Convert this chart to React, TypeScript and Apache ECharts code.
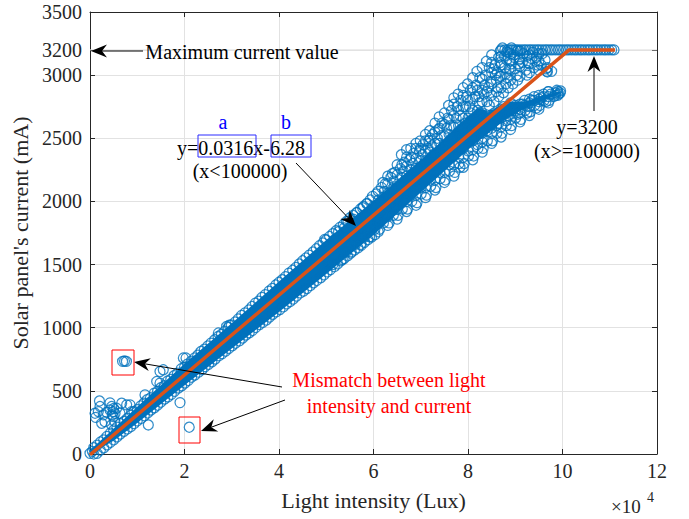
import React, { useEffect, useRef } from "react";
import * as echarts from "echarts";

const FONT = "Liberation Serif, Times New Roman, serif";
const BLUE = "#0072BD";
const ORANGE = "#D95319";
const AXIS = "#262626";
const GRID = "#e2e2e2";

const yTickLabels = [0, 500, 1000, 1500, 2000, 2500, 3000, 3200, 3500];

// fitted piecewise model: y = 0.0316x - 6.28 (x<100000), y = 3200 (x>=100000)
const fitX = [0, 101400, 111100];
const fitY = [-6.28, 3200, 3200];
const maxCurrent = [3200, 3200];
const maxCurrentX = [0, 120000];

// dense core of the measured cloud (where circles overlap completely)
const coreX = [0, 5000, 10000, 20000, 30000, 40000, 50000, 60000, 70000, 80000, 88000, 92000, 96000, 99500];
const coreLow = [0, 105, 245, 545, 835, 1125, 1425, 1735, 2070, 2410, 2650, 2735, 2800, 2855];
const coreHigh = [30, 200, 375, 715, 1035, 1365, 1695, 2005, 2310, 2610, 2790, 2790, 2840, 2872];
// dense part of the upper (saturating) arm
const armX = [60000, 66000, 70000, 74000, 78000, 82000, 84000];
const armLow = [1900, 2080, 2206, 2332, 2459, 2585, 2650];
const armHigh = [2000, 2200, 2330, 2460, 2610, 2740, 2720];

// measured samples (Lux, mA)
const upperEdge = [
  [800, 50], [2200, 95], [3600, 140], [5000, 190], [6400, 240], [7900, 282], [9300, 335], [10700, 380],
  [12100, 430], [13600, 482], [15000, 525], [16400, 578], [17800, 620], [19300, 675], [20600, 712],
  [22100, 760], [23500, 812], [24900, 855], [26400, 905], [27800, 948], [29300, 1002], [30700, 1045],
  [32100, 1098], [33600, 1140], [35000, 1195], [36400, 1240], [37900, 1290], [39300, 1338], [40700, 1380],
  [42100, 1432], [43600, 1478], [45000, 1530], [46400, 1575], [47900, 1625], [49300, 1672], [50700, 1722],
  [52100, 1768], [53600, 1815], [55000, 1870], [56400, 1912], [57900, 1960], [59300, 2012],
];
const upperEdge2 = [
  [1500, 70], [2900, 112], [4300, 165], [5700, 212], [7200, 258], [8600, 305], [10000, 352], [11400, 402],
  [12800, 445], [14300, 495], [15700, 540], [17100, 590], [18500, 640], [20000, 688], [21400, 735],
  [22800, 782], [24200, 830], [25600, 878], [27100, 930], [28500, 972], [29900, 1022], [31400, 1070],
  [32800, 1118], [34300, 1168], [35700, 1210], [37100, 1262], [38600, 1312], [40000, 1360], [41400, 1405],
  [42900, 1455], [44300, 1505], [45700, 1552], [47200, 1600], [48600, 1650], [50000, 1695], [51400, 1745],
  [52900, 1795], [54300, 1842], [55700, 1890], [57200, 1940], [58600, 1985],
];
const lowerEdge = [
  [1500, 5], [2900, 48], [4300, 92], [5700, 135], [7200, 180], [8600, 216], [10000, 262], [11500, 303],
  [12900, 348], [14300, 386], [15800, 435], [17200, 472], [18700, 522], [20100, 562], [21500, 608],
  [23000, 648], [24400, 692], [25800, 730], [27300, 778], [28700, 814], [30100, 857], [31600, 896],
  [33000, 942], [34400, 978], [35900, 1025], [37300, 1060], [38700, 1106], [40200, 1144], [41600, 1189],
  [43000, 1226], [44500, 1275], [45900, 1310], [47300, 1356], [48800, 1395], [50200, 1442], [51700, 1483],
  [53100, 1530], [54500, 1568], [56000, 1615], [57400, 1652], [58800, 1697], [60300, 1737],
];
const lowerEdge2 = [
  [800, 0], [2200, 30], [3600, 72], [5000, 112], [6400, 158], [7900, 198], [9300, 240], [10800, 282],
  [12200, 325], [13600, 366], [15000, 410], [16500, 452], [17900, 496], [19400, 540], [20800, 582],
  [22200, 625], [23700, 668], [25100, 710], [26500, 752], [28000, 795], [29400, 836], [30800, 877],
  [32300, 918], [33700, 960], [35100, 1002], [36600, 1042], [38000, 1084], [39400, 1125], [40900, 1165],
  [42300, 1206], [43700, 1250], [45200, 1290], [46600, 1333], [48000, 1374], [49500, 1418], [50900, 1460],
  [52400, 1505], [53800, 1548], [55200, 1590], [56700, 1632], [58100, 1676], [59600, 1718],
];
const spreadPoints = [
  [49300, 1480], [50200, 1530], [50800, 1650], [49700, 1700], [50400, 1600],
  [51400, 1500], [52300, 1560], [51800, 1700], [52600, 1760], [51200, 1640],
  [53400, 1540], [54200, 1600], [53800, 1790], [54600, 1840], [54100, 1720], [53200, 1660],
  [55300, 1600], [56200, 1660], [55700, 1860], [56500, 1910], [56000, 1800], [55500, 1720],
  [57300, 1660], [58100, 1720], [57700, 1950], [58600, 1980], [58200, 1880], [57500, 1790], [58800, 1760],
  [59200, 1720], [60300, 1780], [59800, 2040], [60600, 2060], [60000, 1960], [59500, 1850], [60800, 1870],
  [61300, 1780], [62100, 1830], [61700, 2110], [62500, 2140], [62000, 2030], [61500, 1920], [62700, 1960], [62300, 2080],
  [63300, 1830], [64200, 1890], [63700, 2190], [64500, 2230], [64000, 2100], [63500, 1990], [64700, 2020], [64300, 2160],
  [65200, 1890], [66100, 1940], [65700, 2260], [66500, 2310], [66000, 2190], [65500, 2060], [66700, 2090], [66300, 2240], [65900, 2370],
  [67200, 1940], [68100, 2000], [67700, 2330], [68500, 2380], [68000, 2250], [67500, 2120], [68700, 2160], [68300, 2300], [67900, 2420],
  [69200, 1990], [70100, 2060], [69700, 2400], [70500, 2450], [70000, 2320], [69500, 2180], [70700, 2230], [70300, 2370], [69900, 2480],
  [71200, 2050], [72100, 2120], [71700, 2480], [72500, 2530], [72000, 2390], [71500, 2250], [72700, 2290], [72300, 2440], [71900, 2560],
  [73200, 2110], [74100, 2180], [73700, 2570], [74500, 2620], [74000, 2460], [73500, 2310], [74700, 2360], [74300, 2520], [73900, 2670],
  [75200, 2170], [76100, 2240], [75700, 2660], [76500, 2720], [76000, 2530], [75500, 2370], [76700, 2420], [76300, 2600], [75900, 2760],
  [77200, 2230], [78100, 2300], [77700, 2750], [78500, 2800], [78000, 2600], [77500, 2430], [78700, 2490], [78300, 2680], [77900, 2850], [78300, 2270],
  [79200, 2300], [80100, 2360], [79700, 2830], [80500, 2880], [80000, 2660], [79500, 2500], [80700, 2560], [80300, 2750], [79900, 2930],
  [81200, 2360], [82100, 2420], [81700, 2920], [82500, 2980], [82000, 2720], [81500, 2560], [82700, 2620], [82300, 2830], [81900, 3030],
  [83200, 2420], [84100, 2480], [83700, 3000], [84500, 3060], [84000, 2790], [83500, 2620], [84700, 2680], [84300, 2900], [83900, 3110],
  [85200, 2480], [86100, 2540], [85700, 3080], [86500, 3140], [86000, 2650], [85500, 2700], [86700, 2990], [86300, 2900],
  [87200, 2540], [88100, 2600], [87700, 3150], [88500, 3180], [88000, 2700], [87500, 2750], [88700, 3050], [88300, 2980],
  [89200, 2600], [90100, 2660], [89700, 3160], [90500, 3190], [90000, 2760], [89500, 2720], [90700, 3090], [90300, 3000],
  [91200, 2650], [92100, 2720], [91700, 3170], [92500, 3150], [92000, 2800], [91500, 2770], [92700, 3100], [92300, 3040],
  [93200, 2710], [94100, 2760], [93700, 3180], [94500, 3140], [94000, 2830], [93500, 2800], [94700, 3080], [94300, 3110],
  [95200, 2760], [96100, 2800], [95700, 3170], [96500, 3050], [96000, 2850], [95500, 2820], [96700, 3030], [96300, 3120],
  [97200, 2800], [98100, 2830], [97700, 3030], [97000, 2870], [98500, 2860], [99200, 2850], [99600, 2875], [98800, 2880],
];
const upperArm = [
  [61000, 2010], [61000, 2080], [63000, 2060], [63000, 2140], [63000, 2200], [65000, 2120], [65000, 2210], [65000, 2290],
  [67000, 2200], [67000, 2280], [67000, 2350], [67000, 2410], [69000, 2260], [69000, 2340], [69000, 2420], [69000, 2460],
  [71000, 2320], [71000, 2400], [71000, 2480], [71000, 2530], [73000, 2380], [73000, 2460], [73000, 2550], [73000, 2620],
  [75000, 2440], [75000, 2520], [75000, 2610], [75000, 2700], [77000, 2510], [77000, 2590], [77000, 2680], [77000, 2770],
  [77000, 2820], [79000, 2580], [79000, 2660], [79000, 2750], [79000, 2840], [79000, 2900], [81000, 2640], [81000, 2720],
  [81000, 2810], [81000, 2900], [81000, 2980], [83000, 2700], [83000, 2790], [83000, 2880], [83000, 2970], [83000, 3060],
  [85000, 2840], [85000, 2930], [85000, 3020], [85000, 3100], [85000, 3160], [87000, 2900], [87000, 2990], [87000, 3080],
  [87000, 3150], [87000, 3200], [89000, 2960], [89000, 3040], [89000, 3110], [89000, 3170], [91000, 2990], [91000, 3070],
  [91000, 3130], [91000, 3190], [93000, 3020], [93000, 3090], [93000, 3160], [95000, 3040], [95000, 3110], [95000, 3170],
  [96800, 3025], [96800, 3060],
  [84500, 2760], [85500, 2790], [86000, 2870], [86500, 2830], [87500, 2860], [88000, 2930], [88500, 2900],
  [89500, 2930], [90500, 2960], [84800, 2950], [85800, 3000], [86200, 3020], [87800, 3060], [89200, 3090],
  [90800, 3120], [83400, 2850], [82400, 2780], [80600, 2700], [79400, 2620],
  [70500, 2290], [72500, 2360], [74500, 2420], [76500, 2500], [78500, 2570], [80500, 2640], [82500, 2700],
  [71500, 2420], [73500, 2500], [75500, 2580], [77500, 2660], [79500, 2750], [81500, 2830], [83500, 2920],
  [85500, 3050], [86800, 3100], [88200, 3120], [89800, 3140], [91500, 3100], [93500, 3130], [95500, 3080],
  [94000, 3060], [92500, 3000], [90000, 3050], [88000, 3010], [86000, 2960], [84000, 2870], [82000, 2880],
  [80000, 2800], [78000, 2720], [76000, 2650], [74000, 2580], [72000, 2500], [70000, 2420], [68000, 2350],
  [66000, 2290], [64000, 2220], [62000, 2150],
];
const lowerArm = [
  [61000, 1760], [61000, 1830], [63000, 1810], [63000, 1880], [65000, 1860], [65000, 1940], [67000, 1920], [67000, 2000],
  [67000, 2070], [69000, 1970], [69000, 2050], [69000, 2120], [71000, 2030], [71000, 2110], [71000, 2180], [73000, 2090],
  [73000, 2170], [73000, 2240], [75000, 2150], [75000, 2230], [75000, 2300], [77000, 2200], [77000, 2290], [77000, 2360],
  [79000, 2270], [79000, 2350], [79000, 2420], [81000, 2330], [81000, 2410], [81000, 2480], [83000, 2390], [83000, 2470],
  [83000, 2540], [85000, 2460], [85000, 2540], [85000, 2610], [85000, 2680], [87000, 2510], [87000, 2590], [87000, 2660],
  [87000, 2730], [89000, 2570], [89000, 2650], [89000, 2720], [89000, 2780], [91000, 2630], [91000, 2700], [91000, 2770],
  [93000, 2680], [93000, 2750], [93000, 2810], [95000, 2730], [95000, 2790], [95000, 2840], [97000, 2780], [97000, 2830],
  [97000, 2870], [99000, 2840], [99000, 2870],
  [84000, 2560], [85000, 2580], [86000, 2600], [87000, 2700], [88000, 2640], [89000, 2690], [90000, 2720],
  [91000, 2730], [92000, 2760], [93000, 2780], [94000, 2800], [95000, 2810], [96000, 2830], [97500, 2850],
  [98500, 2840], [99500, 2860], [86500, 2620], [88500, 2680], [90500, 2690], [92500, 2700], [94500, 2740],
  [96500, 2790], [83000, 2500], [82000, 2450], [80000, 2400], [78000, 2350], [76000, 2290], [74000, 2230],
  [72000, 2170], [70000, 2110],
];
const saturated = [
  [86800, 3190], [87300, 3215], [87800, 3200], [88200, 3185], [88400, 3200], [89000, 3200], [89200, 3215],
  [89500, 3200], [90100, 3200], [90600, 3200], [91200, 3200], [91800, 3200], [92300, 3200], [92900, 3200],
  [93400, 3200], [94000, 3200], [94600, 3200], [95100, 3200], [95700, 3200], [96300, 3200], [96800, 3200],
  [97400, 3200], [97900, 3200], [98500, 3200], [99100, 3200], [99600, 3200], [100200, 3200], [100800, 3200],
  [101300, 3200], [101900, 3200], [102500, 3200], [103000, 3200], [103600, 3200], [104100, 3200], [104700, 3200],
  [105300, 3200], [105800, 3200], [106400, 3200], [107000, 3200], [107500, 3200], [108100, 3200], [108700, 3200],
  [109200, 3200], [109800, 3200], [110400, 3200], [110900, 3200],
];
const lowOutliers = [
  [0, 5], [500, 20], [1060, 323], [1200, 290], [1760, 336], [2000, 420], [2120, 376], [2470, 243], [2820, 310],
  [3170, 256], [3500, 330], [4230, 349], [4230, 405], [4580, 376], [4580, 230], [4700, 310], [4940, 336],
  [4940, 296], [5000, 360], [5290, 256], [5300, 320], [5640, 362], [6350, 323], [6700, 402], [7760, 389],
  [8470, 389], [8820, 336], [11640, 468], [12340, 230], [14110, 574], [14810, 561], [14810, 653], [15510, 667],
  [19050, 407], [19750, 760], [20320, 760], [27160, 958], [28920, 1010], [29500, 1020],
];
const mismatch = [[6900, 733], [7300, 736], [7700, 733], [21000, 212]];

const measured = [
  ...upperEdge, ...upperEdge2, ...lowerEdge, ...lowerEdge2, ...spreadPoints, ...upperArm, ...lowerArm,
  ...saturated, ...lowOutliers, ...mismatch,
];

const bands = [
  { xs: coreX, lo: coreLow, hi: coreHigh },
  { xs: armX, lo: armLow, hi: armHigh },
];

function arrow(x1: number, y1: number, x2: number, y2: number, L = 16, W = 6.5, notch = 5) {
  const dx = x2 - x1, dy = y2 - y1;
  const len = Math.hypot(dx, dy);
  const ux = dx / len, uy = dy / len;
  const nx = -uy, ny = ux;
  const bx = x2 - ux * L, by = y2 - uy * L;
  const mx = x2 - ux * (L - notch), my = y2 - uy * (L - notch);
  return [
    { type: "line", silent: true, z: 100, shape: { x1, y1, x2: mx, y2: my }, style: { stroke: "#000", lineWidth: 1 } },
    {
      type: "polygon", silent: true, z: 100,
      shape: { points: [[x2, y2], [bx + nx * W, by + ny * W], [mx, my], [bx - nx * W, by - ny * W]] },
      style: { fill: "#000" },
    },
  ];
}

function txt(text: string, x: number, y: number, fill = "#000", size = 20, align = "center") {
  return {
    type: "text", silent: true, z: 100, x, y,
    style: { text, fill, font: `${size}px ${FONT}`, align, verticalAlign: "middle" },
  };
}

function box(x1: number, y1: number, x2: number, y2: number, stroke: string) {
  return {
    type: "rect", silent: true, z: 100,
    shape: { x: x1, y: y1, width: x2 - x1, height: y2 - y1 },
    style: { fill: "none", stroke, lineWidth: 1 },
  };
}

export default function App() {
  const ref = useRef<HTMLDivElement>(null);
  useEffect(() => {
    if (!ref.current) return;
    const chart = echarts.init(ref.current, null, { renderer: "svg" });
    const axisCommon = {
      axisLine: { show: true, onZero: false, lineStyle: { color: AXIS, width: 1 } },
      axisTick: { show: true, inside: true, length: 5, lineStyle: { color: AXIS } },
    };
    chart.setOption({
      animation: false,
      backgroundColor: "#fff",
      textStyle: { fontFamily: FONT },
      grid: { left: 90, right: 32, top: 12, bottom: 65, containLabel: false, outerBoundsMode: "none" },
      xAxis: [
        {
          type: "value", min: 0, max: 120000, interval: 20000, position: "bottom",
          ...axisCommon,
          axisLabel: {
            color: AXIS, fontFamily: FONT, fontSize: 20, margin: 7,
            formatter: (v: number) => String(v / 10000),
          },
          splitLine: { show: true, lineStyle: { color: GRID, width: 1 } },
          name: "Light intensity (Lux)", nameLocation: "middle", nameGap: 35,
          nameTextStyle: { color: AXIS, fontFamily: FONT, fontSize: 22 },
        },
        {
          type: "value", min: 0, max: 120000, interval: 20000, position: "top",
          ...axisCommon, axisLabel: { show: false }, splitLine: { show: false },
        },
      ],
      yAxis: [
        {
          type: "value", min: 0, max: 3500, interval: 500, position: "left",
          axisLine: { show: true, onZero: false, lineStyle: { color: AXIS, width: 1 } },
          axisTick: { show: true, inside: true, length: 5, lineStyle: { color: AXIS }, customValues: yTickLabels },
          axisLabel: {
            color: AXIS, fontFamily: FONT, fontSize: 20, margin: 8, customValues: yTickLabels,
            formatter: (v: number) => String(v),
          },
          splitLine: { show: true, lineStyle: { color: GRID, width: 1 } },
          name: "Solar panel's current (mA)", nameLocation: "middle", nameGap: 54,
          nameTextStyle: { color: AXIS, fontFamily: FONT, fontSize: 22 },
        },
        {
          type: "value", min: 0, max: 3500, interval: 500, position: "right",
          axisLine: { show: true, onZero: false, lineStyle: { color: AXIS, width: 1 } },
          axisTick: { show: true, inside: true, length: 5, lineStyle: { color: AXIS }, customValues: yTickLabels },
          axisLabel: { show: false }, splitLine: { show: false },
        },
      ],
      series: [
        {
          name: "grid3200", type: "line", z: 1, silent: true, symbol: "none",
          data: maxCurrentX.map((x, i) => [x, maxCurrent[i]]),
          lineStyle: { color: GRID, width: 1 },
        },
        {
          name: "core", type: "custom", z: 2, silent: true,
          data: bands.map((b, i) => [b.xs[0], b.lo[0], i]),
          encode: { x: 0, y: 1 },
          renderItem: (params: any, api: any) => {
            const b = bands[params.dataIndex];
            const up = b.xs.map((x, i) => api.coord([x, b.hi[i]]));
            const lo = b.xs.map((x, i) => api.coord([x, b.lo[i]])).reverse();
            return { type: "polygon", shape: { points: [...up, ...lo] }, style: { fill: BLUE } };
          },
        },
        {
          name: "Measured", type: "scatter", z: 3, silent: true, symbol: "circle", symbolSize: 10,
          data: measured,
          itemStyle: { color: "rgba(0,0,0,0)", borderColor: BLUE, borderWidth: 1.25 },
        },
        {
          name: "Fit", type: "line", z: 4, silent: true, symbol: "none",
          data: fitX.map((x, i) => [x, fitY[i]]),
          lineStyle: { color: ORANGE, width: 3.5 },
        },
      ],
      graphic: [
        ...arrow(143, 51, 91, 51),
        txt("Maximum current value", 242, 52),
        txt("a", 223, 122, "#0000ff"),
        txt("b", 286, 122, "#0000ff"),
        txt("y=0.0316x-6.28", 241, 148),
        box(198, 135, 256, 157, "#2a2aff"),
        box(271, 135, 311, 157, "#2a2aff"),
        txt("(x<100000)", 240, 171),
        ...arrow(296, 163, 356, 226),
        txt("y=3200", 587, 127),
        txt("(x>=100000)", 587, 151),
        ...arrow(594, 111, 594, 56),
        txt("Mismatch between light", 389, 380, "#ff0000"),
        txt("intensity and current", 389, 406, "#ff0000"),
        ...arrow(282, 387, 134, 362),
        ...arrow(285, 400, 201, 431),
        box(112, 350, 134, 375, "#ff0000"),
        box(179, 417, 200, 443, "#ff0000"),
        txt("\u00d710", 611, 506, AXIS, 19, "left"),
        txt("4", 647, 497, AXIS, 14, "left"),
      ],
    });
    return () => chart.dispose();
  }, []);
  return (
    <div
      ref={ref}
      style={{ position: "fixed", left: 0, top: 0, width: 689, height: 519, background: "#fff" }}
    />
  );
}
